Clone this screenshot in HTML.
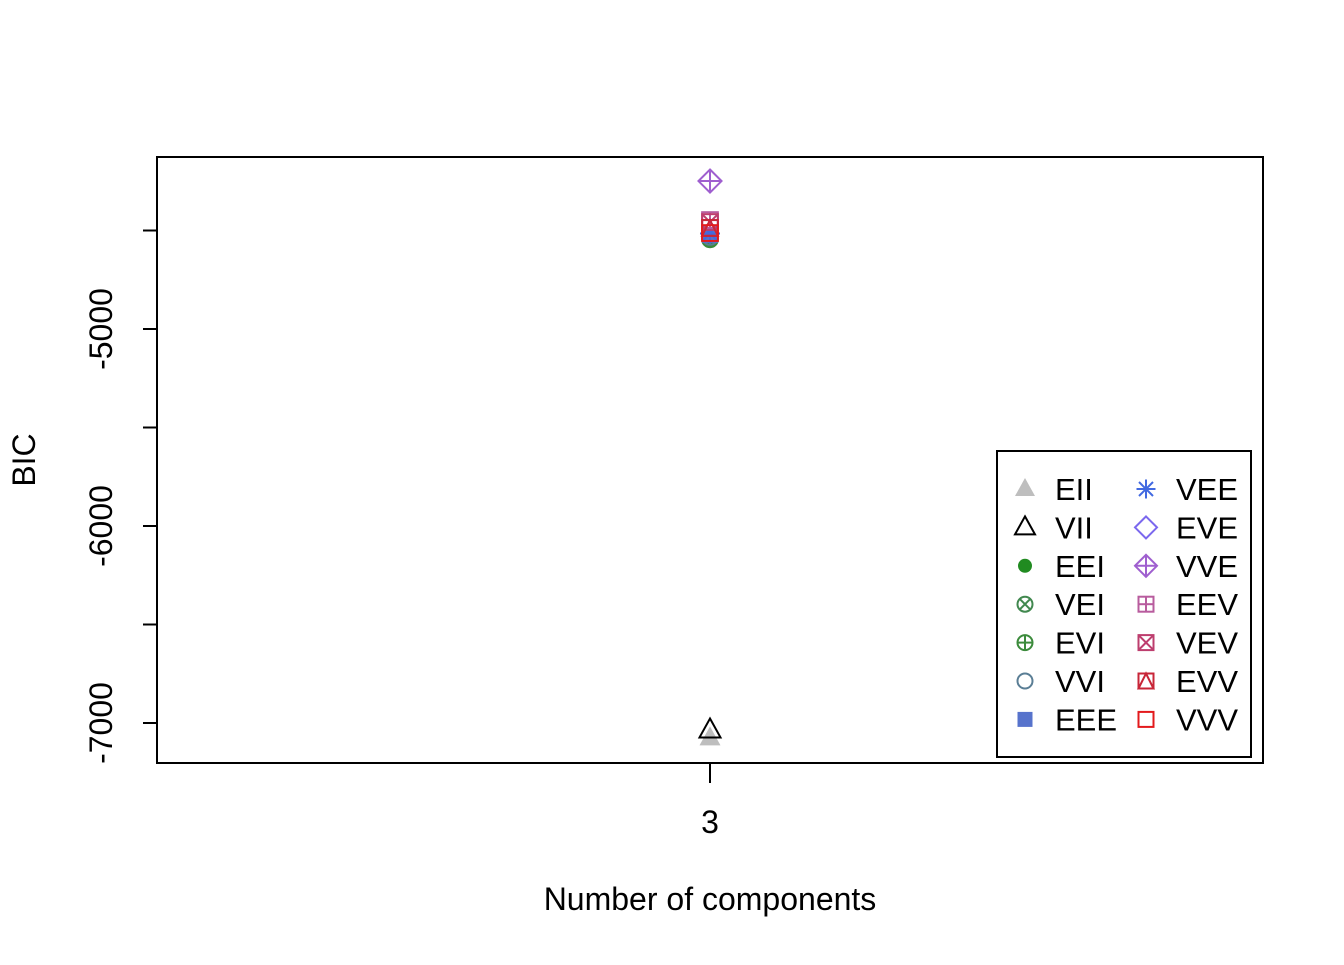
<!DOCTYPE html>
<html><head><meta charset="utf-8"><style>
body{margin:0;background:#fff}
text{font-family:"Liberation Sans",Arial,sans-serif;fill:#000}
</style></head><body>
<svg id="chart" width="1344" height="960" xmlns="http://www.w3.org/2000/svg">
<rect x="157" y="157" width="1106" height="606" fill="none" stroke="#000" stroke-width="2"/>
<g id="yaxis"></g>
<g id="xaxis"></g>
<text x="710" y="910" font-size="32" text-anchor="middle">Number of components</text>
<text transform="translate(35,460) rotate(-90)" font-size="32" text-anchor="middle">BIC</text>
<g id="marks"></g>
<g id="legend">
<rect x="997" y="451" width="254" height="306" fill="#fff" stroke="#000" stroke-width="2"/>
</g>
</svg>
<script>
const models=["EII","VII","EEI","VEI","EVI","VVI","EEE","VEE","EVE","VVE","EEV","VEV","EVV","VVV"];
const colors=["#bebebe","#000000","#218B21","#41884F","#3C8B3C","#5A7E95","#5773CC","#4169E1","#7B68EE","#9F5FCF","#B85C9E","#BD3E6E","#C82638","#E31A1C"];
const bic=[-7076,-7036,-4548,-4538,-4545,-4532,-4523,-4515,null,-4249,-4447,-4457,-4487,-4513];
const yTicks=[-7000,-6000,-5000];
const yMinor=[-6500,-5500,-4500];
const xCats=[3];
const NS="http://www.w3.org/2000/svg";
const y=v=>723-(v+7000)*0.197;
const x=c=>710;
function mk(t,a,p){const e=document.createElementNS(NS,t);for(const k in a)e.setAttribute(k,a[k]);p.appendChild(e);return e;}
const ya=document.getElementById('yaxis');
yTicks.concat(yMinor).forEach(v=>{const l=mk('line',{x1:143,x2:157,y1:y(v),y2:y(v),stroke:'#000','stroke-width':2},ya);

});
yTicks.forEach(v=>{const t=mk('text',{transform:`translate(112,${y(v)}) rotate(-90)`,'font-size':32,'text-anchor':'middle'},ya);t.textContent=String(v);

});
const xa=document.getElementById('xaxis');
xCats.forEach(c=>{const l=mk('line',{x1:x(c),x2:x(c),y1:763,y2:783,stroke:'#000','stroke-width':2},xa);


const t=mk('text',{x:x(c),y:833,'font-size':32,'text-anchor':'middle'},xa);t.textContent=String(c);

});
function sym(i,cx,cy,p,s){const c=colors[i],g=mk('g',{fill:'none',stroke:c,'stroke-width':2},p);const r=s;
const tri=`${cx},${cy-r*1.1} ${cx+r},${cy+r*0.7} ${cx-r},${cy+r*0.7}`;
const sq=()=>mk('rect',{x:cx-r*0.75,y:cy-r*0.75,width:r*1.5,height:r*1.5},g);
const dia=()=>mk('polygon',{points:`${cx},${cy-r*1.1} ${cx+r*1.1},${cy} ${cx},${cy+r*1.1} ${cx-r*1.1},${cy}`},g);
const plus=(k)=>{mk('line',{x1:cx-r*k,x2:cx+r*k,y1:cy,y2:cy},g);mk('line',{x1:cx,x2:cx,y1:cy-r*k,y2:cy+r*k},g);};
const xx=(k)=>{mk('line',{x1:cx-r*k,x2:cx+r*k,y1:cy-r*k,y2:cy+r*k},g);mk('line',{x1:cx-r*k,x2:cx+r*k,y1:cy+r*k,y2:cy-r*k},g);};
switch(models[i]){
case"EII":mk('polygon',{points:tri,fill:c,stroke:'none'},g);break;
case"VII":mk('polygon',{points:tri},g);break;
case"EEI":mk('circle',{cx,cy,r:r*0.7,fill:c,stroke:'none'},g);break;
case"VEI":mk('circle',{cx,cy,r:r*0.75},g);xx(0.55);break;
case"EVI":mk('circle',{cx,cy,r:r*0.75},g);plus(0.75);break;
case"VVI":mk('circle',{cx,cy,r:r*0.75},g);break;
case"EEE":mk('rect',{x:cx-r*0.75,y:cy-r*0.75,width:r*1.5,height:r*1.5,fill:c,stroke:'none'},g);break;
case"VEE":plus(0.95);xx(0.7);break;
case"EVE":dia();break;
case"VVE":dia();plus(1.1);break;
case"EEV":sq();plus(0.75);break;
case"VEV":sq();xx(0.75);break;
case"EVV":sq();mk('polygon',{points:`${cx},${cy-r*0.75} ${cx+r*0.75},${cy+r*0.75} ${cx-r*0.75},${cy+r*0.75}`},g);break;
case"VVV":sq();break;}
return g;}
const mg=document.getElementById('marks');
models.forEach((m,i)=>{if(bic[i]===null)return;const g=sym(i,x(3),y(bic[i]),mg,10.5);

});
const lg=document.getElementById('legend');
models.forEach((m,i)=>{const col=Math.floor(i/7),row=i%7;const sx=col?1146:1025,ty=489+row*38.4;
const g=sym(i,sx,ty,lg,10);


const t=mk('text',{x:sx+30,y:ty+11,'font-size':31},lg);t.textContent=m;

});
</script>
</body></html>
